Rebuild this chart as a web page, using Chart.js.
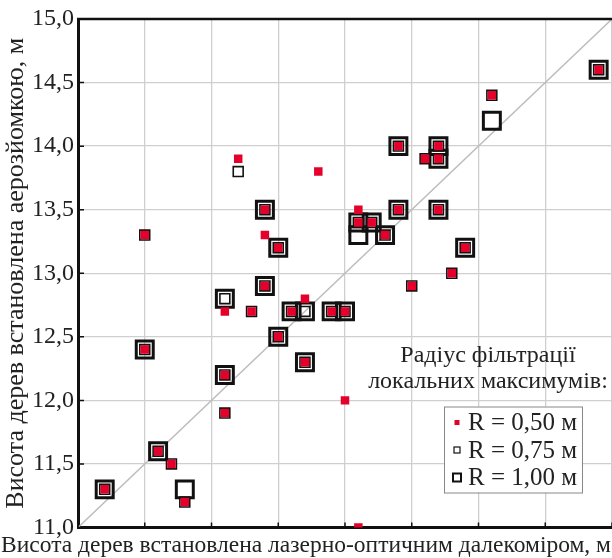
<!DOCTYPE html>
<html>
<head>
<meta charset="utf-8">
<script src="https://cdn.jsdelivr.net/npm/chart.js@4.4.0/dist/chart.umd.min.js"></script>
<style>
    body { margin: 0; background: #fff; }
</style>
</head>
<body>
<canvas id="chart" width="612" height="558"></canvas>
<script>
// R = 0,50 м
const r50X = [11.2, 11.5, 11.5, 11.6, 11.7, 11.8, 12.1, 12.1, 12.1, 12.2, 12.3, 12.4, 12.4, 12.4, 12.5, 12.5, 12.6, 12.7, 12.7, 12.8,
              12.9, 13.0, 13.0, 13.1, 13.1, 13.1, 13.2, 13.3, 13.4, 13.4, 13.5, 13.6, 13.7, 13.7, 13.7, 13.8, 13.9, 14.1, 14.9];
const r50Y = [11.3, 12.4, 13.3, 11.6, 11.5, 11.2, 12.2, 11.9, 12.7, 13.9, 12.7, 13.5, 13.3, 12.9, 13.2, 12.5, 12.7, 12.8, 12.3, 13.8,
              12.7, 12.7, 12.0, 13.5, 13.4, 11.0, 13.4, 13.3, 14.0, 13.5, 12.9, 13.9, 14.0, 13.9, 13.5, 13.0, 13.2, 14.4, 14.6];

// R = 0,75 м
const r75X = [11.2, 11.5, 11.5, 11.6, 11.7, 11.8, 12.1, 12.1, 12.1, 12.2, 12.3, 12.4, 12.4, 12.5, 12.5, 12.6, 12.7, 12.7, 12.9, 13.0,
              13.1, 13.2, 13.3, 13.4, 13.4, 13.5, 13.6, 13.7, 13.7, 13.7, 13.8, 13.9, 14.1, 14.9];
const r75Y = [11.3, 12.4, 13.3, 11.6, 11.5, 11.2, 12.2, 11.9, 12.8, 13.8, 12.7, 13.5, 12.9, 13.2, 12.5, 12.7, 12.7, 12.3, 12.7, 12.7,
              13.4, 13.4, 13.3, 14.0, 13.5, 12.9, 13.9, 14.0, 13.9, 13.5, 13.0, 13.2, 14.4, 14.6];

// R = 1,00 м
const r100X = [11.2, 11.5, 11.6, 11.8, 12.1, 12.1, 12.4, 12.4, 12.5, 12.5, 12.6, 12.7, 12.7, 12.9, 13.0, 13.1, 13.1, 13.2, 13.3, 13.4,
               13.4, 13.7, 13.7, 13.7, 13.9, 14.1, 14.9];
const r100Y = [11.3, 12.4, 11.6, 11.3, 12.2, 12.8, 13.5, 12.9, 13.2, 12.5, 12.7, 12.7, 12.3, 12.7, 12.7, 13.4, 13.3, 13.4, 13.3, 14.0,
               13.5, 14.0, 13.9, 13.5, 13.2, 14.2, 14.6];

// лінія 1:1
const diagX = [11.0, 15.0];
const diagY = [11.0, 15.0];

const yTickLabels = ['11,0', '11,5', '12,0', '12,5', '13,0', '13,5', '14,0', '14,5', '15,0'];
const seriesNames = ['R = 0,50 м', 'R = 0,75 м', 'R = 1,00 м'];
const legendTitle = ['Радіус фільтрації', 'локальних максимумів:'];
const xTitle = 'Висота дерев встановлена лазерно-оптичним далекоміром, м';
const yTitle = 'Висота дерев встановлена аерозйомкою, м';

const RED = '#e4002b';
const FONT = "'Liberation Serif', 'Times New Roman', serif";

function toPoints(xs, ys) {
    return xs.map((x, i) => ({ x: x, y: ys[i] }));
}

// рамка зверху + внутрішні засічки на осях
const framePlugin = {
    id: 'frame',
    afterDraw(chart) {
        const ctx = chart.ctx;
        const a = chart.chartArea;
        const xs = chart.scales.x;
        const ys = chart.scales.y;
        ctx.save();
        ctx.strokeStyle = '#111';
        ctx.lineWidth = 2.5;
        ctx.beginPath();
        ctx.moveTo(a.left - 1, a.top);
        ctx.lineTo(a.right, a.top);
        ctx.stroke();
        ctx.lineWidth = 1.5;
        ctx.beginPath();
        xs.ticks.forEach(t => {
            const px = xs.getPixelForValue(t.value);
            ctx.moveTo(px, a.bottom);
            ctx.lineTo(px, a.bottom - 5);
        });
        ys.ticks.forEach(t => {
            const py = ys.getPixelForValue(t.value);
            ctx.moveTo(a.left, py);
            ctx.lineTo(a.left + 6, py);
        });
        ctx.stroke();
        ctx.restore();
    }
};

// легенда всередині поля графіка
const innerLegend = {
    id: 'innerLegend',
    afterDraw(chart) {
        const ctx = chart.ctx;
        const a = chart.chartArea;
        ctx.save();
        ctx.fillStyle = '#222';
        ctx.font = '24px ' + FONT;
        ctx.textAlign = 'center';
        ctx.textBaseline = 'middle';
        const cx = a.right - 124;
        ctx.fillText(legendTitle[0], cx, a.bottom - 172);
        ctx.fillText(legendTitle[1], cx, a.bottom - 146);

        const bx = a.right - 168, by = a.bottom - 121, bw = 138, bh = 86;
        ctx.fillStyle = '#fff';
        ctx.fillRect(bx, by, bw, bh);
        ctx.strokeStyle = '#888';
        ctx.lineWidth = 1;
        ctx.strokeRect(bx + 0.5, by + 0.5, bw, bh);

        ctx.font = '25px ' + FONT;
        ctx.textAlign = 'left';
        seriesNames.forEach((name, i) => {
            const ry = by + 16 + i * 27.5;
            const mx = bx + 13;
            if (i === 0) {
                ctx.fillStyle = RED;
                ctx.fillRect(mx - 2.5, ry - 2.5, 5, 5);
            } else if (i === 1) {
                ctx.strokeStyle = '#111';
                ctx.lineWidth = 1.2;
                ctx.strokeRect(mx - 3, ry - 3, 6, 6);
            } else {
                ctx.strokeStyle = '#111';
                ctx.lineWidth = 2;
                ctx.strokeRect(mx - 4, ry - 4, 8, 8);
            }
            ctx.fillStyle = '#222';
            ctx.fillText(name, bx + 24, ry + 1);
        });
        ctx.restore();
    }
};

const ctx = document.getElementById('chart').getContext('2d');

new Chart(ctx, {
    type: 'scatter',
    data: {
        datasets: [
            {
                label: seriesNames[0],
                data: toPoints(r50X, r50Y),
                pointStyle: 'rect',
                pointRadius: 6,
                backgroundColor: RED,
                borderColor: RED,
                borderWidth: 0,
                order: 1
            },
            {
                label: seriesNames[1],
                data: toPoints(r75X, r75Y),
                pointStyle: 'rect',
                pointRadius: 7,
                backgroundColor: 'rgba(255,255,255,0)',
                borderColor: '#111',
                borderWidth: 1.6,
                order: 2
            },
            {
                label: seriesNames[2],
                data: toPoints(r100X, r100Y),
                pointStyle: 'rect',
                pointRadius: 12,
                backgroundColor: 'rgba(255,255,255,0)',
                borderColor: '#111',
                borderWidth: 3,
                order: 3
            },
            {
                type: 'line',
                label: '1:1',
                data: toPoints(diagX, diagY),
                borderColor: '#bdbdbd',
                borderWidth: 1.5,
                pointRadius: 0,
                order: 4
            }
        ]
    },
    options: {
        responsive: false,
        animation: false,
        layout: {
            autoPadding: false,
            padding: { top: 19, right: 0, bottom: 0, left: 0 }
        },
        plugins: {
            legend: { display: false },
            tooltip: { enabled: false },
            title: {
                display: true,
                position: 'bottom',
                text: xTitle,
                color: '#222',
                font: { family: FONT, size: 23.5, weight: 'normal', lineHeight: 1.0 },
                padding: { top: 1, bottom: 0 }
            }
        },
        scales: {
            x: {
                type: 'linear',
                min: 11,
                max: 15,
                ticks: { display: false, stepSize: 0.5 },
                grid: { color: '#cfcfcf', lineWidth: 1.3, drawTicks: false },
                border: { display: true, color: '#111', width: 3 },
                afterFit(scale) { scale.height = 6; }
            },
            y: {
                type: 'linear',
                min: 11,
                max: 15,
                ticks: {
                    stepSize: 0.5,
                    padding: 4,
                    color: '#222',
                    font: { family: FONT, size: 24 },
                    callback: (value, index) => yTickLabels[index]
                },
                grid: { color: '#cfcfcf', lineWidth: 1.3, drawTicks: false },
                border: { display: true, color: '#111', width: 3 },
                title: {
                    display: true,
                    text: yTitle,
                    color: '#222',
                    font: { family: FONT, size: 26, lineHeight: 1.1 },
                    padding: { top: 2, bottom: 0 }
                },
                afterFit(scale) { scale.width = 78; }
            }
        }
    },
    plugins: [framePlugin, innerLegend]
});
</script>
</body>
</html>
